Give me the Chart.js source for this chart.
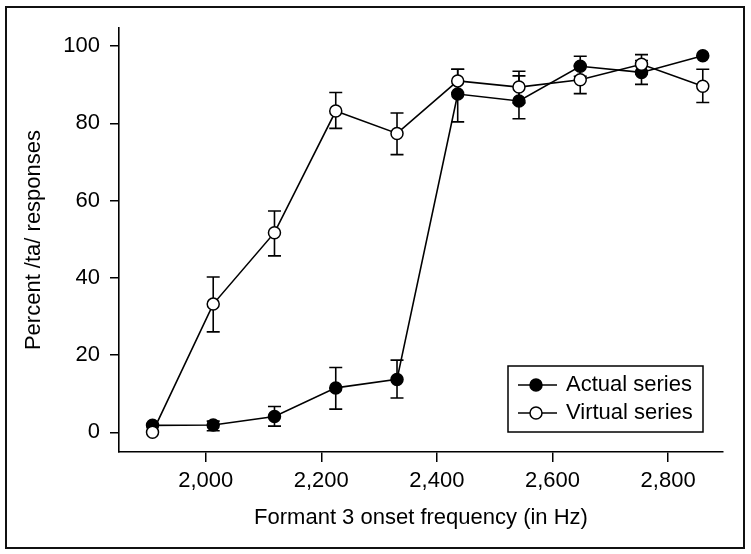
<!DOCTYPE html>
<html>
<head>
<meta charset="utf-8">
<script src="https://cdn.jsdelivr.net/npm/chart.js@4"></script>
<style>
  html, body { margin: 0; padding: 0; background: #fff; }
  canvas { display: block; }
</style>
</head>
<body>
<canvas id="chart" width="751" height="554"></canvas>
<script>
// onset frequencies (Hz) of the continuum steps
const freqs = [1908, 2013, 2119, 2225, 2331, 2436, 2542, 2648, 2754, 2860];

// percent /ta/ responses
const actualPct = [1.8, 1.9, 4.1, 11.5, 13.7, 87.6, 85.8, 94.8, 93.2, 97.5];
const actualErrUp = [0, 1.0, 2.6, 5.3, 5.0, 6.4, 6.5, 2.6, 3.1, 0];
const actualErrDown = [0, 1.5, 2.5, 5.5, 4.8, 7.2, 4.6, 2.6, 3.1, 0];

const virtualPct = [0, 33.2, 51.7, 83.2, 77.4, 91.0, 89.4, 91.3, 95.3, 89.6];
const virtualErrUp = [0, 7.0, 5.6, 4.8, 5.3, 3.0, 4.1, 3.6, 2.5, 4.4];
const virtualErrDown = [0, 7.2, 6.0, 4.5, 5.5, 3.0, 4.1, 3.6, 2.5, 4.2];

const xTickValues = [2000, 2200, 2400, 2600, 2800];
const yTickValues = [0, 20, 40, 60, 80, 100];

const seriesNames = ['Actual series', 'Virtual series'];

Chart.defaults.font.family = '"Liberation Sans", Arial, Helvetica, sans-serif';
Chart.defaults.font.size = 22;
Chart.defaults.color = '#000';

const toPoints = (vals) => vals.map((v, i) => ({ x: freqs[i], y: v }));

// outer frame + white background
const framePlugin = {
  id: 'frame',
  beforeDraw(chart) {
    const ctx = chart.ctx;
    ctx.save();
    ctx.fillStyle = '#fff';
    ctx.fillRect(0, 0, chart.width, chart.height);
    ctx.strokeStyle = '#111';
    ctx.lineWidth = 2;
    ctx.strokeRect(6, 7, 738, 541);
    ctx.restore();
  }
};

// error bars drawn under the markers
const errorBarPlugin = {
  id: 'errorBars',
  beforeDatasetsDraw(chart) {
    const ctx = chart.ctx;
    const xs = chart.scales.x, ys = chart.scales.y;
    ctx.save();
    ctx.strokeStyle = '#000';
    ctx.lineWidth = 1.6;
    chart.data.datasets.forEach((ds) => {
      ds.data.forEach((p, i) => {
        if (!ds.errUp[i] && !ds.errDown[i]) return; // hidden under the marker
        const px = xs.getPixelForValue(p.x);
        const top = ys.getPixelForValue(p.y + ds.errUp[i]);
        const bot = ys.getPixelForValue(p.y - ds.errDown[i]);
        ctx.beginPath();
        ctx.moveTo(px, top); ctx.lineTo(px, bot);
        ctx.moveTo(px - 6.5, top); ctx.lineTo(px + 6.5, top);
        ctx.moveTo(px - 6.5, bot); ctx.lineTo(px + 6.5, bot);
        ctx.stroke();
      });
    });
    ctx.restore();
  }
};

// boxed legend in the lower right of the plot
const boxLegendPlugin = {
  id: 'boxLegend',
  afterDraw(chart) {
    const ctx = chart.ctx;
    const area = chart.chartArea;
    const w = 195, h = 66;
    const x0 = area.right - 20 - w, y0 = area.bottom - 20 - h;
    ctx.save();
    ctx.strokeStyle = '#000';
    ctx.lineWidth = 1.5;
    ctx.strokeRect(x0, y0, w, h);
    chart.data.datasets.forEach((ds, i) => {
      const cy = y0 + 19 + i * 28;
      ctx.beginPath();
      ctx.lineWidth = 1.5;
      ctx.moveTo(x0 + 10, cy); ctx.lineTo(x0 + 49, cy);
      ctx.stroke();
      ctx.beginPath();
      ctx.arc(x0 + 28, cy, 6, 0, Math.PI * 2);
      ctx.fillStyle = ds.pointBackgroundColor;
      ctx.fill();
      ctx.stroke();
      ctx.fillStyle = '#000';
      ctx.font = '22px "Liberation Sans", Arial, Helvetica, sans-serif';
      ctx.textBaseline = 'middle';
      ctx.textAlign = 'left';
      ctx.fillText(ds.label, x0 + 58, cy);
    });
    ctx.restore();
  }
};

new Chart(document.getElementById('chart'), {
  type: 'line',
  data: {
    datasets: [
      {
        label: seriesNames[0],
        data: toPoints(actualPct),
        errUp: actualErrUp,
        errDown: actualErrDown,
        borderColor: '#000',
        borderWidth: 1.6,
        pointRadius: 6,
        pointBorderWidth: 1.5,
        pointBorderColor: '#000',
        pointBackgroundColor: '#000',
        tension: 0,
        order: 1
      },
      {
        label: seriesNames[1],
        data: toPoints(virtualPct),
        errUp: virtualErrUp,
        errDown: virtualErrDown,
        borderColor: '#000',
        borderWidth: 1.6,
        pointRadius: 6,
        pointBorderWidth: 1.5,
        pointBorderColor: '#000',
        pointBackgroundColor: '#fff',
        tension: 0,
        order: 0
      }
    ]
  },
  options: {
    responsive: false,
    animation: false,
    layout: { padding: { top: 28, right: 28, left: 0, bottom: 0 } },
    plugins: {
      legend: { display: false },
      tooltip: { enabled: false }
    },
    scales: {
      x: {
        type: 'linear',
        min: 1850,
        max: 2895,
        afterBuildTicks: (s) => { s.ticks = xTickValues.map(v => ({ value: v })); },
        afterFit: (s) => { s.height = 102; },
        grid: { display: true, drawOnChartArea: false, drawTicks: true, tickLength: 10, color: '#000', lineWidth: 1.5 },
        border: { display: true, color: '#000', width: 1.6 },
        ticks: {
          padding: 6,
          maxRotation: 0,
          callback: (v) => v.toLocaleString('en-US')
        },
        title: {
          display: true,
          text: 'Formant 3 onset frequency (in Hz)',
          padding: { top: 0, bottom: 23 }
        }
      },
      y: {
        min: -5.1,
        max: 104.7,
        afterBuildTicks: (s) => { s.ticks = yTickValues.map(v => ({ value: v })); },
        afterFit: (s) => { s.width = 119; },
        grid: { display: true, drawOnChartArea: false, drawTicks: true, tickLength: 9, color: '#000', lineWidth: 1.5 },
        border: { display: true, color: '#000', width: 1.6 },
        ticks: { padding: 10 },
        title: {
          display: true,
          text: 'Percent /ta/ responses',
          padding: { top: 21, bottom: 0 }
        }
      }
    }
  },
  plugins: [framePlugin, errorBarPlugin, boxLegendPlugin]
});
</script>
</body>
</html>
